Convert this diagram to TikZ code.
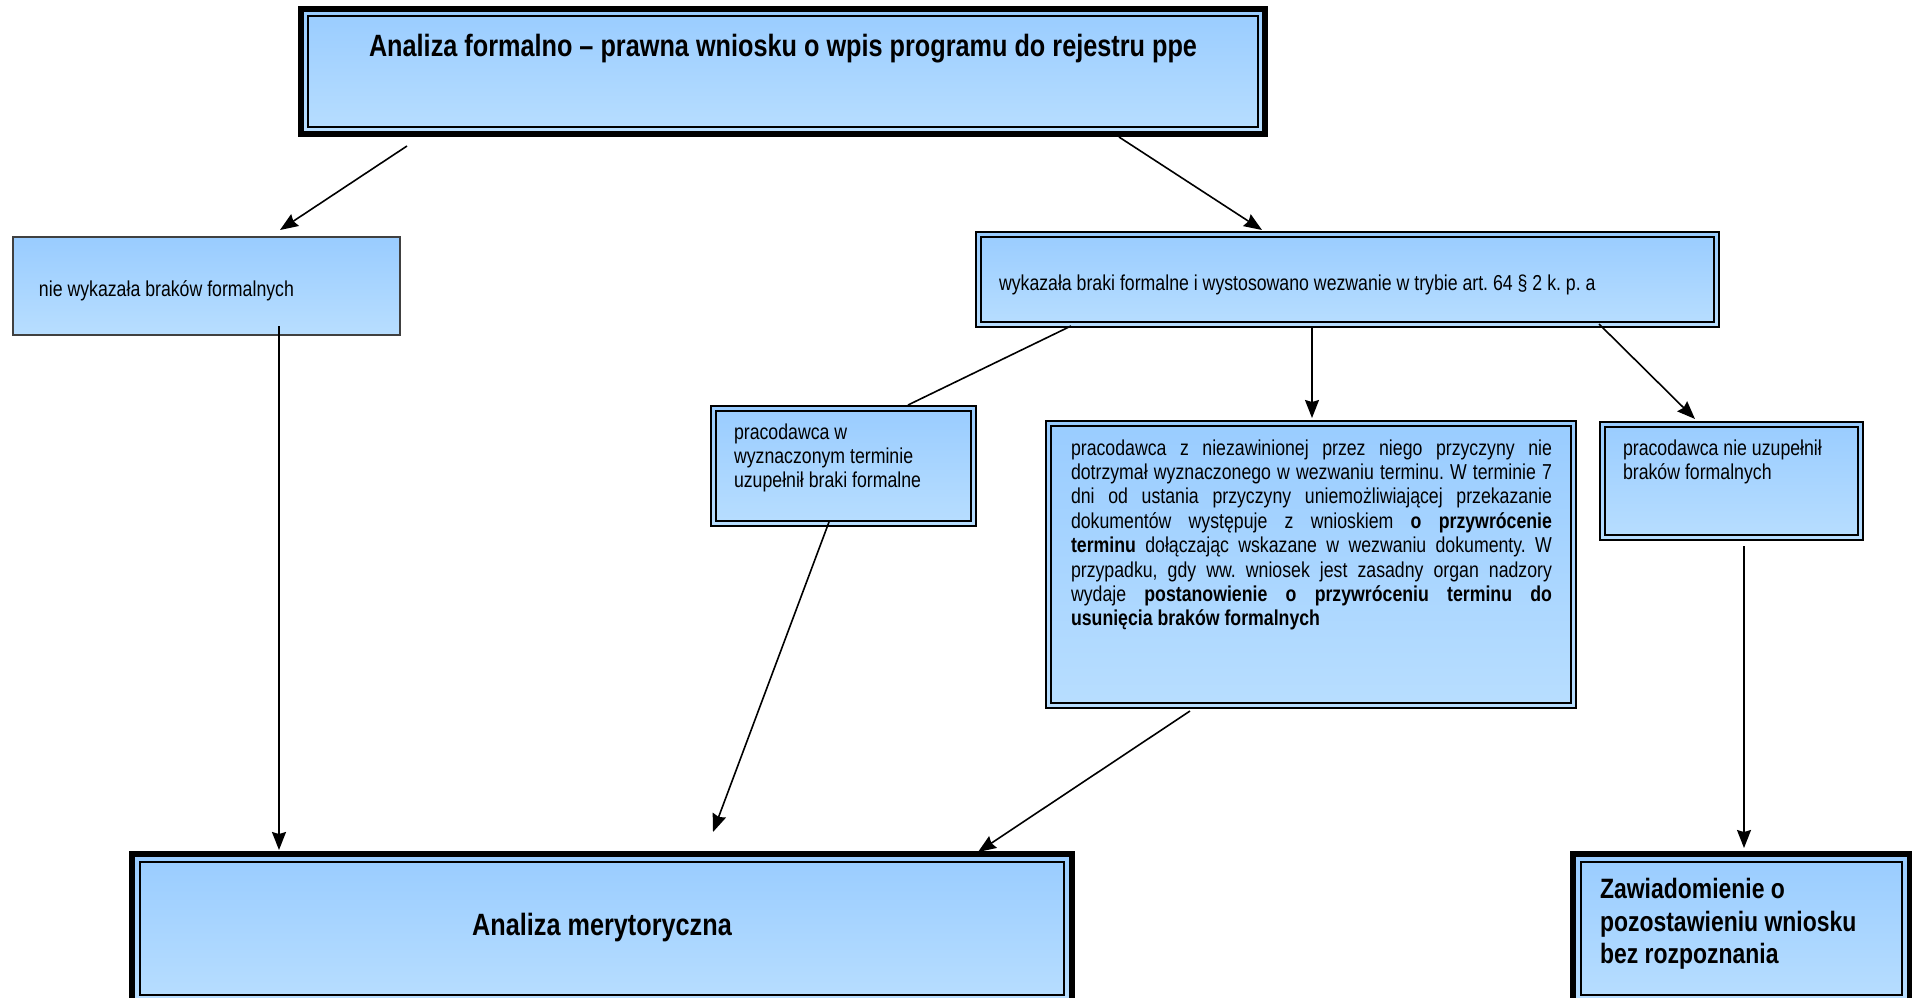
\documentclass[tikz,border=0pt]{standalone}
\usepackage{fontspec}
\usepackage{graphicx}
\setmainfont{Liberation Sans}
\usetikzlibrary{arrows.meta,calc}
\definecolor{boxtop}{RGB}{153,204,255}
\definecolor{boxbot}{RGB}{184,222,255}
\newcommand\dgSmall{\fontsize{10.8}{12.2}\selectfont\frenchspacing}
\newcommand\dgHead{\fontsize{15.4}{18}\selectfont\bfseries\frenchspacing}
\newcommand\dgZaw{\fontsize{14}{16.2}\selectfont\bfseries\frenchspacing}
\newcommand\dgSx[1]{\scalebox{0.82}[1]{#1}}
\newcommand\dgLines[1]{\dgSx{\begin{tabular}[t]{@{}l@{}}#1\end{tabular}}}
\begin{document}
\begin{tikzpicture}[x=0.5pt,y=-0.5pt,
  box/.style={anchor=north west, inner sep=0pt, outer sep=0pt, top color=boxtop, bottom color=boxbot, draw=black},
  dbl/.style n args={3}{box, line width=#1, path picture={\draw[line width=#3] ([shift={(#2,-#2)}]path picture bounding box.north west) rectangle ([shift={(-#2,#2)}]path picture bounding box.south east);}},
  heavybox/.style={dbl={2.8pt}{3.6pt}{1pt}},
  floorbox/.style={dbl={3.4pt}{4.2pt}{1pt}},
  thinbox/.style={dbl={1.3pt}{2.4pt}{0.9pt}},
  plainbox/.style={box, draw=black!75, line width=0.6pt},
  txt/.style={inner sep=0pt, outer sep=0pt, font=\dgSmall},
  headtxt/.style={inner sep=0pt, outer sep=0pt, font=\dgHead},
  zawtxt/.style={inner sep=0pt, outer sep=0pt, font=\dgZaw},
  arr/.style={line width=0.8pt, -{Stealth[length=9pt,width=7pt,inset=1pt]}},
  link/.style={line width=0.8pt}
]
\path[use as bounding box, fill=white] (0,0) rectangle (1912,997);
\clip (0,0) rectangle (1912,997);

% boxes
\node[heavybox, minimum width=482pt, minimum height=62.5pt] (top) at (301,9) {};
\node[plainbox, minimum width=193.5pt, minimum height=49pt] (nwb) at (13,237) {};
\node[thinbox, minimum width=371.5pt, minimum height=47.5pt] (wb) at (976,232) {};
\node[thinbox, minimum width=132.5pt, minimum height=60pt] (pw) at (711,406) {};
\node[thinbox, minimum width=265pt, minimum height=143.5pt] (prz) at (1046,421) {};
\node[thinbox, minimum width=131.5pt, minimum height=59pt] (nu) at (1600,422) {};
\node[floorbox, minimum width=470pt, minimum height=74.5pt] (am) at (132,854) {};
\node[floorbox, minimum width=168.5pt, minimum height=74.5pt] (zaw) at (1573,854) {};

% texts
\node[headtxt, anchor=base] (ttop) at (783,56) {\dgSx{Analiza formalno – prawna wniosku o wpis programu do rejestru ppe}};
\node[txt, anchor=base west] (tnwb) at (39,296) {\dgSx{nie wykazała braków formalnych}};
\node[txt, anchor=base west] (twb) at (999,290) {\dgSx{wykazała braki formalne i wystosowano wezwanie w trybie art. 64 § 2 k. p. a}};
\node[txt, anchor=north west] (tpw) at (734,422) {\dgLines{pracodawca w\\ wyznaczonym terminie\\ uzupełnił braki formalne}};
\node[txt, anchor=north west] (tnu) at (1623,438) {\dgLines{pracodawca nie uzupełnił\\ braków formalnych}};
\node[txt, anchor=north west] (tprz) at (1071,438) {\dgSx{\vtop{\hsize=293.3pt
\hbox to \hsize{\strut pracodawca z niezawinionej przez niego przyczyny nie}
\hbox to \hsize{dotrzymał wyznaczonego w wezwaniu terminu. W terminie 7}
\hbox to \hsize{dni od ustania przyczyny uniemożliwiającej przekazanie}
\hbox to \hsize{dokumentów występuje z wnioskiem \textbf{o przywrócenie}}
\hbox to \hsize{\textbf{terminu} dołączając wskazane w wezwaniu dokumenty. W}
\hbox to \hsize{przypadku, gdy ww. wniosek jest zasadny organ nadzory}
\hbox to \hsize{wydaje \textbf{postanowienie o przywróceniu terminu do}}
\hbox{\textbf{usunięcia braków formalnych}}}}};
\node[headtxt, anchor=base] (tam) at (602,935) {\dgSx{Analiza merytoryczna}};
\node[zawtxt, anchor=north west] (tzaw) at (1600,876) {\dgLines{Zawiadomienie o\\ pozostawieniu wniosku\\ bez rozpoznania}};

% connectors
\draw[arr] ($(top.south west)+(106,12)$) -- ($(nwb.north west)+(267,-7)$);
\draw[arr] ($(top.south west)+(818,3)$) -- ($(wb.north west)+(286,-2)$);
\draw[arr] ($(nwb.south west)+(266,-9)$) -- ($(am.north west)+(147,-4)$);
\draw[arr] ($(pw.south west)+(118,-4)$) -- ($(am.north west)+(581,-22)$);
\draw[arr] ($(prz.south west)+(144,3)$) -- ($(am.north east)+(-94,-2)$);
\draw[arr] ($(wb.south west)+(336,0)$) -- ($(prz.north west)+(266,-3)$);
\draw[arr] ($(wb.south west)+(623,-3)$) -- ($(nu.north west)+(95,-3)$);
\draw[arr] ($(nu.south west)+(144,6)$) -- ($(zaw.north west)+(171,-6)$);
\draw[link] ($(wb.south west)+(95,-1)$) -- ($(pw.north west)+(197,-1)$);
\end{tikzpicture}
\end{document}
